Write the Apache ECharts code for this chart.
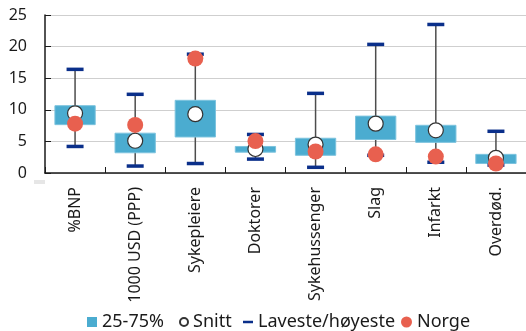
<!DOCTYPE html>
<html><head><meta charset="utf-8">
<script src="https://cdn.jsdelivr.net/npm/echarts@6/dist/echarts.min.js"></script>
<style>html,body{margin:0;padding:0;background:#fff}#c{width:526px;height:331px}</style>
</head><body><div id="c"></div>
<script>
var categories = ['%BNP', '1000 USD (PPP)', 'Sykepleiere', 'Doktorer', 'Sykehussenger', 'Slag', 'Infarkt', 'Overdød.'];
var lowest  = [4.2, 1.1, 1.5, 2.2, 0.9, 2.8, 1.7, 1.25];
var highest = [16.4, 12.45, 18.8, 6.1, 12.6, 20.35, 23.5, 6.6];
var q25 = [7.65, 3.2, 5.7, 3.3, 2.8, 5.3, 4.85, 1.5];
var q75 = [10.65, 6.3, 11.5, 4.2, 5.5, 9.0, 7.55, 2.95];
var mean = [9.45, 5.1, 9.3, 3.8, 4.5, 7.8, 6.75, 2.4];
var norge = [7.8, 7.6, 18.1, 5.05, 3.4, 2.95, 2.6, 1.5];
var yTicks = [0, 5, 10, 15, 20, 25];

var FONT = 'Noto Sans';
var boxData = categories.map(function(c, i){ return [i, q25[i], q75[i]]; });
var whiskData = categories.map(function(c, i){ return [i, lowest[i], highest[i]]; });
var capData = [];
categories.forEach(function(c, i){ capData.push([i, lowest[i]]); capData.push([i, highest[i]]); });

function leg(name, left, size, icon){
  return {
    left: left, top: 313, itemWidth: size, itemHeight: size, padding: 0,
    textStyle: {fontSize: 18, color: '#1a1a1a', fontFamily: FONT},
    data: [{name: name, icon: icon}]
  };
}

var chart = echarts.init(document.getElementById('c'), null, {renderer: 'canvas'});
chart.setOption({
  animation: false,
  textStyle: {fontFamily: FONT},
  grid: {left: 45, right: -10, top: 15, bottom: 158, containLabel: false},
  xAxis: {
    type: 'category', data: categories, boundaryGap: true,
    axisLine: {show: true, lineStyle: {color: '#1a1a1a', width: 1.5}},
    axisTick: {show: true, inside: true, length: 6, lineStyle: {color: '#1a1a1a'}},
    axisLabel: {rotate: 90, margin: 14, fontSize: 16, color: '#1a1a1a', fontFamily: FONT, interval: 0},
    splitLine: {show: false}
  },
  yAxis: {
    type: 'value', min: yTicks[0], max: yTicks[yTicks.length - 1], interval: 5,
    axisLine: {show: true, lineStyle: {color: '#1a1a1a', width: 1.5}},
    axisTick: {show: true, inside: true, length: 6, lineStyle: {color: '#1a1a1a'}},
    axisLabel: {margin: 18, fontSize: 16, color: '#1a1a1a', fontFamily: FONT},
    splitLine: {show: true, lineStyle: {color: '#cfcfcf', width: 1.2}}
  },
  legend: [
    leg('25-75%', 87, 10, 'rect'),
    leg('Snitt', 179, 8, 'circle'),
    leg('Laveste/høyeste', 243, 10, 'path://M0,4H10V6.5H0Z'),
    leg('Norge', 401, 11, 'circle')
  ],
  graphic: [{type: 'rect', left: 34, top: 180, shape: {width: 11, height: 4}, style: {fill: '#e6e6e6'}}],
  series: [
    {
      name: 'whisker', type: 'custom', z: 1, silent: true,
      data: whiskData, encode: {x: 0, y: [1, 2]},
      renderItem: function(params, api){
        var x = api.value(0);
        var a = api.coord([x, api.value(1)]);
        var b = api.coord([x, api.value(2)]);
        return {type: 'line', shape: {x1: a[0], y1: a[1], x2: b[0], y2: b[1]}, style: {stroke: '#4d4d4d', lineWidth: 1.5}};
      }
    },
    {
      name: '25-75%', type: 'custom', z: 2,
      itemStyle: {color: '#4BACD0'},
      data: boxData, encode: {x: 0, y: [1, 2]},
      renderItem: function(params, api){
        var x = api.value(0);
        var lo = api.coord([x, api.value(1)]);
        var hi = api.coord([x, api.value(2)]);
        var w = api.size([1, 0])[0] * 0.67;
        return {type: 'rect', shape: {x: lo[0] - w / 2, y: hi[1], width: w, height: lo[1] - hi[1]},
          style: {fill: '#4BACD0', stroke: '#7cc3de', lineWidth: 1}};
      }
    },
    {
      name: 'Laveste/høyeste', type: 'scatter', z: 3,
      symbol: 'rect', symbolSize: [17, 3.5],
      itemStyle: {color: '#0a2f8a', opacity: 1},
      data: capData
    },
    {
      name: 'Snitt', type: 'scatter', z: 4,
      symbol: 'circle', symbolSize: 15,
      itemStyle: {color: '#ffffff', borderColor: '#333333', borderWidth: 1.2, opacity: 1},
      data: mean.map(function(v, i){ return [i, v]; })
    },
    {
      name: 'Norge', type: 'scatter', z: 5,
      symbol: 'circle', symbolSize: 16,
      itemStyle: {color: '#E8604F', opacity: 1},
      data: norge.map(function(v, i){ return [i, v]; })
    }
  ]
});
</script></body></html>
